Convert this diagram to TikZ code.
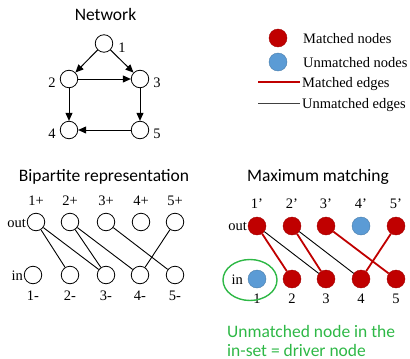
\documentclass[tikz,border=0pt]{standalone}
\usepackage{fontspec}
\setmainfont{Liberation Serif}
\newfontfamily\titlefont{Carlito}
\usetikzlibrary{arrows.meta,shapes.geometric}

\definecolor{matchred}{RGB}{192,0,0}
\definecolor{unmatchblue}{RGB}{91,155,213}
\definecolor{drivergreen}{RGB}{46,184,70}

\tikzset{
  vtx/.style={draw, circle, minimum size=17.5pt, inner sep=0pt, line width=0.8pt},
  redvtx/.style={circle, fill=matchred, draw=matchred!85!black, line width=0.4pt, minimum size=18pt, inner sep=0pt},
  bluevtx/.style={circle, fill=unmatchblue, draw=unmatchblue!80!black, line width=0.4pt, minimum size=18pt, inner sep=0pt},
  lbl/.style={font=\fontsize{14.5}{16}\selectfont, inner sep=0pt, anchor=base},
  ttl/.style={font=\titlefont\fontsize{17.5}{20}\selectfont, inner sep=0pt, anchor=base},
  arc/.style={-{Triangle[length=8pt,width=7pt]}, line width=1pt},
  medge/.style={matchred, line width=1.8pt},
  uedge/.style={black, line width=0.9pt},
}

\begin{document}
\begin{tikzpicture}[x=1pt, y=-1pt]
  \useasboundingbox (0,0) rectangle (410,359);

  % Network
  \node[ttl] (netttl) at (105.5,20) {Network};
  \foreach \i/\x/\y in {1/104/43.5, 2/69/79, 3/140/79, 4/69/130, 5/140/130} {
    \node[vtx] (n\i) at (\x,\y) {};
  }
  \node[lbl] (ln1) at (122,52) {1};
  \node[lbl] (ln2) at (52,87) {2};
  \node[lbl] (ln3) at (157,87) {3};
  \node[lbl] (ln4) at (52,138) {4};
  \node[lbl] (ln5) at (157,138) {5};

  \draw[arc] (n1) -- (n2);
  \draw[arc] (n1) -- (n3);
  \draw[arc] (n2) -- (n3);
  \draw[arc] (n2) -- (n4);
  \draw[arc] (n3) -- (n5);
  \draw[arc] (n5) -- (n4);

  % Legend
  \node[redvtx] (lgm) at (278,38) {};
  \node[bluevtx] (lgu) at (278,62) {};
  \node[lbl, anchor=base west] (lgmt) at (303,43) {Matched nodes};
  \node[lbl, anchor=base west] (lgut) at (303,67) {Unmatched nodes};
  \node[lbl, anchor=base west] (lgme) at (302,87) {Matched edges};
  \node[lbl, anchor=base west] (lgue) at (302,108) {Unmatched edges};
  \coordinate (lm1) at (258,82);
  \coordinate (lm2) at (300,82);
  \coordinate (lu1) at (258,103);
  \coordinate (lu2) at (300,103);
  \draw[medge] (lm1) -- (lm2);
  \draw[uedge, black!75] (lu1) -- (lu2);

  % Bipartite representation
  \node[ttl] (bipttl) at (104,181) {Bipartite representation};
  \foreach \i/\x in {1/36, 2/70, 3/106, 4/141, 5/175} {
    \node[vtx] (p\i) at (\x,222) {};
    \node[lbl] (lp\i) at (\x,205) {\i+};
  }
  \foreach \i/\x in {1/33, 2/70, 3/106, 4/140, 5/175} {
    \node[vtx] (q\i) at (\x,275) {};
    \node[lbl] (lq\i) at (\x,300) {\i-};
  }
  \node[lbl, anchor=base east] (bout) at (26,227) {out};
  \node[lbl, anchor=base east] (bin) at (23,280) {in};

  \draw[uedge] (p1) -- (q2);
  \draw[uedge] (p1) -- (q3);
  \draw[uedge] (p2) -- (q3);
  \draw[uedge] (p2) -- (q4);
  \draw[uedge] (p3) -- (q5);
  \draw[uedge] (p5) -- (q4);

  % Maximum matching
  \node[ttl] (matttl) at (318,181) {Maximum matching};
  \foreach \i/\x/\s in {1/257/redvtx, 2/292/redvtx, 3/326/redvtx, 4/361/bluevtx, 5/396/redvtx} {
    \node[\s] (mo\i) at (\x,226) {};
    \node[lbl] (lmo\i) at (\x,208) {\i'};
  }
  \foreach \i/\x/\s in {1/257/bluevtx, 2/292/redvtx, 3/326/redvtx, 4/361/redvtx, 5/396/redvtx} {
    \node[\s] (mi\i) at (\x,279) {};
    \node[lbl] (lmi\i) at (\x,303) {\i};
  }
  \node[lbl, anchor=base east] (mout) at (247,230) {out};
  \node[lbl, anchor=base east] (min) at (243,284) {in};

  \draw[medge] (mo1) -- (mi2);
  \draw[uedge] (mo1) -- (mi3);
  \draw[medge] (mo2) -- (mi3);
  \draw[uedge] (mo2) -- (mi4);
  \draw[medge] (mo3) -- (mi5);
  \draw[medge] (mo5) -- (mi4);

  % driver node
  \node[draw=drivergreen, ellipse, line width=1.4pt, minimum width=54pt, minimum height=41pt, inner sep=0pt] (drv) at (250,280) {};
  \node[ttl, anchor=base west, text=drivergreen] (drvtxta) at (227,337) {Unmatched node in the};
  \node[ttl, anchor=base west, text=drivergreen] (drvtxtb) at (227,356) {in-set = driver node};
\end{tikzpicture}
\end{document}
